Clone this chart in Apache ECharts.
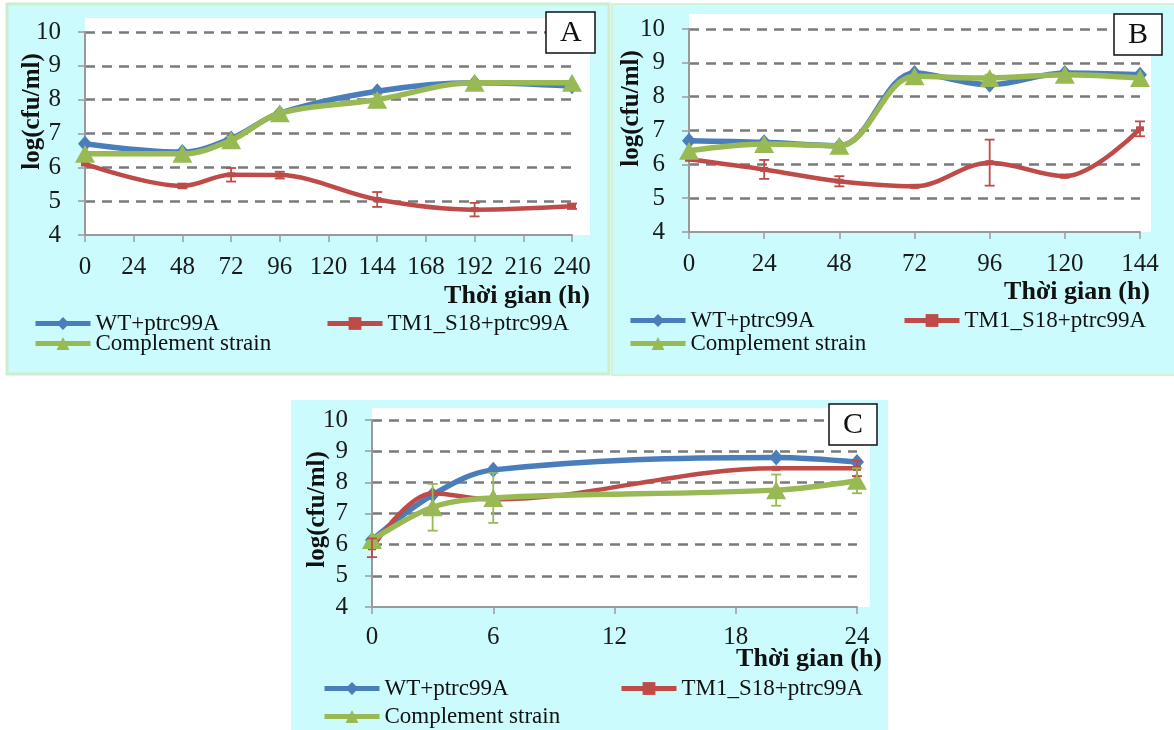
<!DOCTYPE html>
<html><head><meta charset="utf-8">
<script src="https://cdn.jsdelivr.net/npm/echarts@6/dist/echarts.min.js"></script>
<style>html,body{margin:0;padding:0;background:#fff;}#c{width:1174px;height:730px;}</style>
</head><body><div id="c"></div>
<script>
// ---------- DATA ----------
var seriesNames = ['WT+ptrc99A', 'TM1_S18+ptrc99A', 'Complement strain'];
var yTitle = 'log(cfu/ml)';
var xTitle = 'Thời gian (h)';
var panelLabels = ['A', 'B', 'C'];

// Panel A
var timeA = [0, 48, 72, 96, 144, 192, 240];
var wtA = [6.7, 6.45, 6.85, 7.6, 8.25, 8.5, 8.4];
var tmA = [6.1, 5.45, 5.78, 5.77, 5.05, 4.75, 4.85];
var tmErrA = [0, 0.07, 0.2, 0.1, 0.22, 0.2, 0.08];
var coA = [6.4, 6.4, 6.8, 7.6, 8.0, 8.5, 8.5];
var coErrA = [0, 0, 0.1, 0.08, 0.15, 0, 0];

// Panel B
var timeB = [0, 24, 48, 72, 96, 120, 144];
var wtB = [6.7, 6.65, 6.55, 8.7, 8.35, 8.7, 8.65];
var tmB = [6.15, 5.85, 5.5, 5.35, 6.05, 5.65, 7.05];
var tmErrB = [0, 0.28, 0.15, 0.04, 0.68, 0.04, 0.22];
var coB = [6.4, 6.6, 6.55, 8.6, 8.55, 8.65, 8.55];
var coErrB = [0, 0, 0, 0, 0.1, 0, 0];

// Panel C
var timeC = [0, 3, 6, 20, 24];
var wtC = [6.15, 7.6, 8.4, 8.8, 8.65];
var tmC = [5.9, 7.65, 7.45, 8.45, 8.45];
var tmErrC = [0.3, 0, 0, 0, 0.25];
var coC = [6.15, 7.2, 7.5, 7.75, 8.05];
var coErrC = [0, 0.75, 0.8, 0.5, 0.4];

var xMax = [240, 144, 24];
var xInterval = [24, 24, 6];
var yMin = 4, yMax = 10, yInterval = 1;

// ---------- STYLE / LAYOUT ----------
var FONT = 'Liberation Serif';
var BLUE = '#4A7EBB', RED = '#BE4B48', GREEN = '#98B954';
var grids = [
  {left: 85, top: 32, width: 487, height: 203},
  {left: 689, top: 29, width: 451, height: 203},
  {left: 372, top: 420, width: 485, height: 187}
];
var yNameGaps = [40, 45, 42];

function pairs(xs, ys) { return xs.map(function (x, i) { return [x, ys[i]]; }); }
function errs(xs, ys, es) {
  var out = [];
  xs.forEach(function (x, i) { if (es[i] > 0) out.push([x, ys[i], es[i]]); });
  return out;
}
function errRender(color) {
  return function (params, api) {
    var x = api.value(0), y = api.value(1), e = api.value(2);
    var lo = api.coord([x, y - e]), hi = api.coord([x, y + e]);
    var w = 5;
    return {type: 'group', children: [
      {type: 'line', shape: {x1: lo[0], y1: lo[1], x2: hi[0], y2: hi[1]}, style: {stroke: color, lineWidth: 1.8}},
      {type: 'line', shape: {x1: lo[0] - w, y1: lo[1], x2: lo[0] + w, y2: lo[1]}, style: {stroke: color, lineWidth: 1.8}},
      {type: 'line', shape: {x1: hi[0] - w, y1: hi[1], x2: hi[0] + w, y2: hi[1]}, style: {stroke: color, lineWidth: 1.8}}
    ]};
  };
}

var panels = [
  {t: timeA, wt: wtA, tm: tmA, tmE: tmErrA, co: coA, coE: coErrA},
  {t: timeB, wt: wtB, tm: tmB, tmE: tmErrB, co: coB, coE: coErrB},
  {t: timeC, wt: wtC, tm: tmC, tmE: tmErrC, co: coC, coE: coErrC}
];

var xAxes = [], yAxes = [], series = [];
panels.forEach(function (p, i) {
  xAxes.push({
    gridIndex: i, type: 'value', min: 0, max: xMax[i], interval: xInterval[i],
    axisLine: {show: true, lineStyle: {color: '#9a9a9a', width: 2}},
    axisTick: {show: true, length: 7, lineStyle: {color: '#9a9a9a', width: 1.5}},
    axisLabel: {fontFamily: FONT, fontSize: 25, color: '#1a1a1a', margin: i === 2 ? 18 : 20},
    splitLine: {show: false}
  });
  yAxes.push({
    gridIndex: i, type: 'value', min: yMin, max: yMax, interval: yInterval,
    name: yTitle, nameLocation: 'middle', nameRotate: 90, nameGap: yNameGaps[i], nameMoveOverlap: false,
    nameTextStyle: {fontFamily: FONT, fontSize: 25, fontWeight: 'bold', color: '#111',
      padding: i === 2 ? [0, 0, 0, 8] : [0, 0, 0, 44]},
    axisLine: {show: true, lineStyle: {color: '#9a9a9a', width: 2}},
    axisTick: {show: true, length: 7, lineStyle: {color: '#9a9a9a', width: 1.5}},
    axisLabel: {fontFamily: FONT, fontSize: 25, color: '#1a1a1a', margin: 24},
    splitLine: {show: true, showMinLine: false, lineStyle: {color: '#7a7a7a', width: 2.5, type: [10, 7]}}
  });
  series.push({
    name: seriesNames[0], type: 'line', xAxisIndex: i, yAxisIndex: i, smooth: 0.35,
    data: pairs(p.t, p.wt), symbol: 'diamond', symbolSize: [14, 16],
    lineStyle: {color: BLUE, width: 5.5}, itemStyle: {color: BLUE}, z: 3
  });
  series.push({
    name: seriesNames[1], type: 'line', xAxisIndex: i, yAxisIndex: i, smooth: 0.35,
    data: pairs(p.t, p.tm), symbol: 'rect', symbolSize: [8, 5],
    lineStyle: {color: RED, width: 4.5}, itemStyle: {color: RED}, z: 4
  });
  series.push({
    name: seriesNames[2], type: 'line', xAxisIndex: i, yAxisIndex: i, smooth: 0.35,
    data: pairs(p.t, p.co), symbol: 'triangle', symbolSize: [20, 18],
    lineStyle: {color: GREEN, width: 5.5}, itemStyle: {color: GREEN}, z: 5
  });
  series.push({
    type: 'custom', xAxisIndex: i, yAxisIndex: i, renderItem: errRender(RED),
    data: errs(p.t, p.tm, p.tmE), encode: {x: 0, y: 1}, z: 6, silent: true
  });
  series.push({
    type: 'custom', xAxisIndex: i, yAxisIndex: i, renderItem: errRender(GREEN),
    data: errs(p.t, p.co, p.coE), encode: {x: 0, y: 1}, z: 6, silent: true
  });
});

var legendText = {fontFamily: FONT, fontSize: 23, color: '#111'};
// [series index, left, top] for each legend entry, per panel
var legendSpots = [
  [[0, 33, 312], [1, 325, 312], [2, 33, 332]],
  [[0, 628, 309], [1, 902, 309], [2, 628, 332]],
  [[0, 322, 677], [1, 619, 677], [2, 322, 705]]
];
var legends = [];
legendSpots.forEach(function (row) {
  row.forEach(function (s) {
    legends.push({left: s[1], top: s[2], itemWidth: 55, itemHeight: 16, data: [seriesNames[s[0]]],
      textStyle: legendText, selectedMode: false, lineStyle: {width: 5}, padding: 0});
  });
});

var boxTitle = function (txt, left, top) {
  return {text: txt, left: left, top: top, padding: [6, 14, 5, 14], borderColor: '#111', borderWidth: 1.5,
    backgroundColor: '#fff', textStyle: {fontFamily: FONT, fontSize: 30, fontWeight: 'normal', color: '#111', lineHeight: 30}};
};
var axisTitle = function (right, top) {
  return {text: xTitle, right: right, top: top, padding: 0,
    textStyle: {fontFamily: FONT, fontSize: 26, fontWeight: 'bold', color: '#111'}};
};

var CYAN = '#CBFBFD';
var option = {
  animation: false,
  graphic: [
    {type: 'rect', z: -10, shape: {x: 7, y: 4, width: 602, height: 370}, style: {fill: CYAN, stroke: '#C9EFCF', lineWidth: 3}},
    {type: 'rect', z: -10, shape: {x: 612, y: 4, width: 564, height: 371}, style: {fill: CYAN, stroke: '#D3F3D8', lineWidth: 2}},
    {type: 'rect', z: -10, shape: {x: 291, y: 400, width: 597, height: 332}, style: {fill: CYAN}},
    {type: 'rect', z: -9, shape: {x: 85, y: 18, width: 505, height: 217}, style: {fill: '#fff'}},
    {type: 'rect', z: -9, shape: {x: 689, y: 14, width: 462, height: 218}, style: {fill: '#fff'}},
    {type: 'rect', z: -9, shape: {x: 372, y: 408, width: 498, height: 199}, style: {fill: '#fff'}}
  ],
  title: [
    boxTitle(panelLabels[0], 546, 12),
    boxTitle(panelLabels[1], 1114, 14),
    boxTitle(panelLabels[2], 829, 404),
    axisTitle(1174 - 590, 283),
    axisTitle(1174 - 1150, 279),
    axisTitle(1174 - 882, 646)
  ],
  legend: legends,
  grid: grids,
  xAxis: xAxes,
  yAxis: yAxes,
  series: series
};
var chart = echarts.init(document.getElementById('c'), null, {renderer: 'canvas'});
chart.setOption(option);
</script></body></html>
